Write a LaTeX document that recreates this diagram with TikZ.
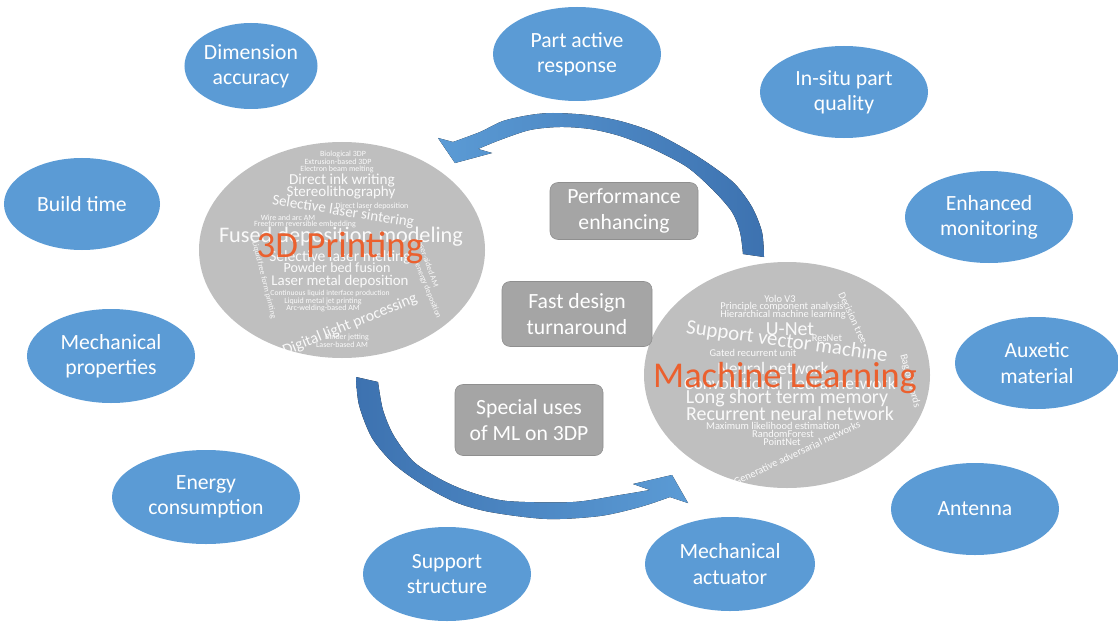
\documentclass[tikz,border=0pt]{standalone}
\usepackage{fontspec}
\setmainfont{Carlito}
\usetikzlibrary{shapes.geometric}
\definecolor{topicblue}{HTML}{5B9BD5}
\definecolor{arrowdark}{HTML}{3D72B0}
\definecolor{cloudgrey}{HTML}{BFBFBF}
\definecolor{boxgrey}{HTML}{A5A5A5}
\definecolor{boxedge}{HTML}{8F8F8F}
\definecolor{titleorange}{HTML}{EB602E}
\newcommand{\cloudsize}[1]{\fontsize{#1}{#1}\selectfont}
\tikzset{
  topic/.style 2 args={ellipse, fill=topicblue, text=white, align=center,
    inner sep=0pt, minimum width=0.6mm*#1, minimum height=0.6mm*#2,
    font=\fontsize{18.5}{21.5}\selectfont},
  cloud/.style 2 args={ellipse, fill=cloudgrey, inner sep=0pt,
    minimum width=0.6mm*#1, minimum height=0.6mm*#2},
  link/.style 2 args={rounded corners=2.4mm, fill=boxgrey, draw=boxedge, line width=0.5pt,
    text=white, align=center, inner sep=0pt,
    minimum width=0.3mm*#1, minimum height=0.3mm*#2,
    font=\fontsize{18.5}{21.5}\selectfont},
  word/.style={text=white, text opacity=0.92, inner sep=0pt, font=\cloudsize{#1}},
  title/.style={text=titleorange, inner sep=0pt, font=\cloudsize{#1}},
}
\begin{document}
\begin{tikzpicture}[x=0.3mm, y=-0.3mm]
\useasboundingbox (0,0) rectangle (1118,623);

% outer ring of application topics
\node[topic={66}{43}] (dim) at (251,66) {Dimension\\accuracy};
\node[topic={84}{47}] (par) at (577,54) {Part active\\response};
\node[topic={84}{46}] (isq) at (844,92) {In-situ part\\quality};
\node[topic={78}{46}] (bld) at (82,204) {Build time};
\node[topic={84}{46}] (mon) at (989,217) {Enhanced\\monitoring};
\node[topic={84}{47}] (mpr) at (111,356) {Mechanical\\properties};
\node[topic={82}{46}] (aux) at (1037,363) {Auxetic\\material};
\node[topic={94}{47}] (nrg) at (206,497) {Energy\\consumption};
\node[topic={84}{46}] (ant) at (975,509) {Antenna};
\node[topic={84}{47}] (sup) at (447,574) {Support\\structure};
\node[topic={85}{47}] (act) at (730,564) {Mechanical\\actuator};

% the two word clouds
\node[cloud={143}{108}] (tdp) at (342,250) {};
\node[cloud={143}{113}] (mlc) at (787,375) {};

% 3D printing processes
\node[word=6.8] (w01) at (343,154) {Biological 3DP};
\node[word=6.8] (w02) at (338,162) {Extrusion-based 3DP};
\node[word=6.8] (w03) at (337,169) {Electron beam melting};
\node[word=13] (w04) at (342,181) {Direct ink writing};
\node[word=12.8] (w05) at (341,193) {Stereolithography};
\node[word=12.8, rotate=-9] (w06) at (343,212) {Selective laser sintering};
\node[word=6.8] (w07) at (372,206) {Direct laser deposition};
\node[word=6.8] (w08) at (288,218) {Wire and arc AM};
\node[word=6.8] (w09) at (305,224) {Freeform reversible embedding};
\node[word=19] (w10) at (341,237) {Fused deposition modeling};
\node[word=13.3] (w11) at (340,257) {Selective laser melting};
\node[word=12] (w12) at (337,268) {Powder bed fusion};
\node[word=12.7] (w13) at (340,282) {Laser metal deposition};
\node[word=6.5] (w14) at (330,293) {Continuous liquid interface production};
\node[word=6.8] (w15) at (323,301) {Liquid metal jet printing};
\node[word=6.8] (w16) at (323,308) {Arc-welding-based AM};
\node[word=13.4, rotate=22] (w17) at (350,325) {Digital light processing};
\node[word=6.8] (w18) at (347,337) {Binder jetting};
\node[word=6.8] (w19) at (342,345) {Laser-based AM};
\node[word=6.8, rotate=-76] (w20) at (264,280) {Liquid free form printing};
\node[word=6.8, rotate=-70] (w21) at (428,263) {Laser-aided AM};
\node[word=6.8, rotate=-68] (w22) at (428,291) {energy deposition};
\node[title=31.5] (t3d) at (340,248) {3D Printing};

% machine learning methods
\node[word=8.9] (m01) at (780,299) {Yolo V3};
\node[word=8.9] (m02) at (782,307) {Principle component analysis};
\node[word=8.9] (m03) at (783,315) {Hierarchical machine learning};
\node[word=8.9, rotate=-65] (m04) at (853,318) {Decision tree};
\node[word=17] (m05) at (790,329) {U-Net};
\node[word=17.8, rotate=-8] (m06) at (787,342) {Support vector machine};
\node[word=8.9] (m07) at (827,338) {ResNet};
\node[word=8.9] (m08) at (753,353) {Gated recurrent unit};
\node[word=15] (m09) at (773,368) {Neural network};
\node[word=15] (m10) at (790,383) {Convolutional neural network};
\node[word=8.9, rotate=-75] (m11) at (910,381) {Bag of words};
\node[word=17] (m12) at (787,398) {Long short term memory};
\node[word=17] (m13) at (790,414) {Recurrent neural network};
\node[word=8.9] (m14) at (773,426) {Maximum likelihood estimation};
\node[word=8.9] (m15) at (783,434) {RandomForest};
\node[word=8.9] (m16) at (782,442) {PointNet};
\node[word=9, rotate=25] (m17) at (797,453) {Generative adversarial networks};
\node[title=31] (tml) at (785,378) {Machine Learning};

% curved block arrow from machine learning back to 3D printing
\fill[left color=topicblue, right color=arrowdark]
  plot[smooth] coordinates {(764,257) (762,232) (752,207) (735,184) (712,166) (687,150)
     (653,132) (620,121) (587,115) (553,113) (530,115) (503,121) (480,132) (453,142)}
  -- (438,138) -- (455,163) -- (492,153) -- (478,149)
  -- plot[smooth] coordinates {(478,149) (500,140) (530,130) (560,127) (590,129)
     (620,136) (653,149) (687,167) (713,190) (732,212) (740,232) (743,254)}
  -- cycle;

% curved block arrow from 3D printing to machine learning
\fill[left color=arrowdark, right color=topicblue]
  plot[smooth] coordinates {(356,377) (359,405) (372,438) (394,464) (423,485)
     (455,502) (490,512) (547,519) (600,516) (640,507) (670,497)}
  -- (688,503) -- (672,475) -- (633,484) -- (650,490)
  -- plot[smooth] coordinates {(650,490) (620,495) (573,502) (507,501) (470,492)
     (442,480) (414,462) (394,436) (383,410) (378,382)}
  -- cycle;

% relations between the two fields
\node[link={148}{57}] (pe) at (624,211) {Performance\\enhancing};
\node[link={150}{65}] (fd) at (577,314) {Fast design\\turnaround};
\node[link={148}{71}] (su) at (529,420) {Special uses\\of ML on 3DP};
\end{tikzpicture}
\end{document}
